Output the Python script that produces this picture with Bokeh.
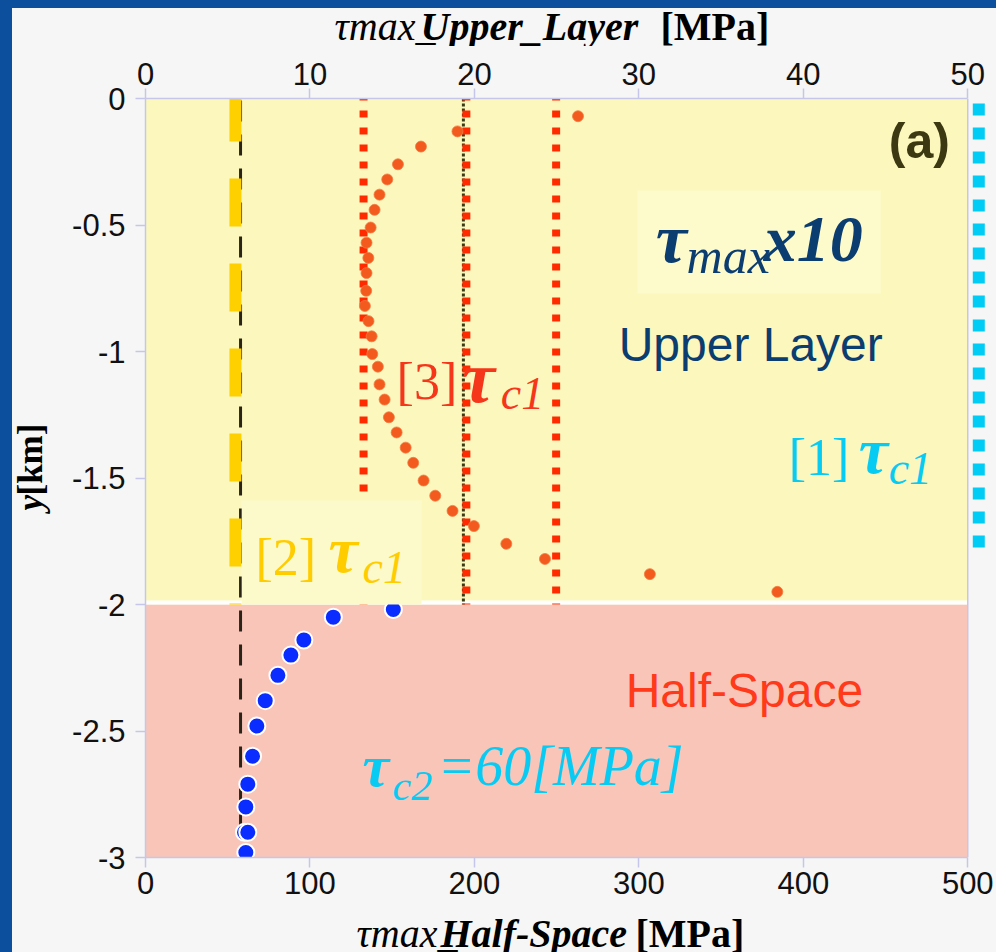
from bokeh.plotting import figure
from bokeh.models import Range1d, LinearAxis, FixedTicker, Label, BoxAnnotation, Span
from bokeh.layouts import column, row
from bokeh.embed import file_html
from bokeh.resources import INLINE

# ---------------- data ----------------
# Upper layer: tau_max x10 (top axis units) vs depth y [km]
upper_depth_km = [-0.07, -0.13, -0.19, -0.26, -0.32, -0.38, -0.44, -0.51, -0.57, -0.63,
                  -0.69, -0.76, -0.82, -0.88, -0.94, -1.01, -1.06, -1.13, -1.19, -1.26,
                  -1.32, -1.38, -1.44, -1.51, -1.57, -1.63, -1.69, -1.76, -1.82, -1.88, -1.95]
upper_tmax = [26.3, 18.97, 16.75, 15.35, 14.70, 14.23, 13.93, 13.69, 13.44, 13.55,
              13.44, 13.42, 13.34, 13.56, 13.75, 13.79, 14.13, 14.23, 14.54, 14.80,
              15.27, 15.82, 16.28, 16.91, 17.62, 18.67, 19.97, 21.94, 24.29, 30.67, 38.42]
# Half-space: tau_max (bottom axis units) vs depth
half_depth_km = [-2.02, -2.05, -2.14, -2.20, -2.28, -2.38, -2.48, -2.60, -2.71, -2.80, -2.90, -2.90, -2.98]
half_tmax = [150.7, 114.2, 96.3, 88.4, 80.5, 72.8, 67.7, 65.1, 62.2, 61.0, 60.2, 62.2, 61.0]

# critical stress reference lines (top-axis units unless noted)
tc1_case1 = 50.67              # [1] cyan dotted
tc1_case2 = 5.47               # [2] yellow dashed
tc1_case3 = [13.26, 19.51, 24.97]  # [3] red dotted
tc1_black_dotted = 19.33
tc2_line = 57.8                # bottom-axis units, black dashed

# layer boundaries [km]
layer_top, layer_interface, layer_bottom = 0.0, -2.0, -3.0
upper_ticks = [0, 10, 20, 30, 40, 50]
lower_ticks = [0, 100, 200, 300, 400, 500]
y_ticks = [0, -0.5, -1, -1.5, -2, -2.5, -3]
y_tick_labels = ["0", "-0.5", "-1", "-1.5", "-2", "-2.5", "-3"]

# ---------------- styling ----------------
BLUE_BG = "#0c4f9c"
PAPER = "#f6f6f6"
YELLOW = "#fcf8bd"
PINK = "#f9c5b9"
FRAME = "#c6c6ea"
SERIF = "Liberation Serif"
SANS = "Liberation Sans"

p = figure(width=939, height=866, output_backend="svg", toolbar_location=None,
           x_range=Range1d(0, 51.2), y_range=Range1d(-3, 0),
           x_axis_location="above", min_border_left=88, min_border_right=9,
           min_border_top=52, min_border_bottom=55, frame_align=False)
p.extra_x_ranges = {"lower": Range1d(0, 512)}
p.background_fill_color = PAPER
p.border_fill_color = PAPER
p.outline_line_color = None
p.grid.grid_line_color = None

lower_axis = LinearAxis(x_range_name="lower")
p.add_layout(lower_axis, "below")

def style_axis(ax, ticks, standoff):
    ax.ticker = FixedTicker(ticks=ticks)
    ax.axis_line_color = FRAME
    ax.axis_line_width = 1.5
    ax.major_tick_line_color = FRAME
    ax.major_tick_line_width = 1.5
    ax.major_tick_out = 10
    ax.major_tick_in = 0
    ax.minor_tick_line_color = None
    ax.major_label_text_font = SANS
    ax.major_label_text_font_size = "31px"
    ax.major_label_text_color = "#111111"
    ax.major_label_standoff = standoff

top_axis = p.xaxis[0]
style_axis(top_axis, upper_ticks, 4)
top_axis.bounds = (0, 50)
style_axis(lower_axis, lower_ticks, 4)
lower_axis.bounds = (0, 500)
style_axis(p.yaxis[0], y_ticks, 10)
p.yaxis[0].major_label_overrides = {t: s for t, s in zip(y_ticks, y_tick_labels)}

# layer regions
p.quad(left=[0], right=[50], top=[layer_top], bottom=[layer_interface], fill_color=YELLOW, line_color=None)
p.quad(left=[0], right=[50], top=[layer_interface], bottom=[layer_bottom], fill_color=PINK, line_color=None)
p.segment(x0=[0], y0=[-1.992], x1=[50], y1=[-1.992], line_color="white", line_width=4)
p.add_layout(Span(location=50, dimension="height", line_color=FRAME, line_width=1.5))

# reference lines
p.segment(x0=[tc2_line], y0=[-0.008], x1=[tc2_line], y1=[layer_bottom], x_range_name="lower",
          line_color="#2a2418", line_width=3, line_dash="21 13")
p.segment(x0=[tc1_case2], y0=[0.02], x1=[tc1_case2], y1=[layer_interface],
          line_color="#ffd000", line_width=12, line_dash="48 37")
p.segment(x0=[tc1_black_dotted], y0=[0], x1=[tc1_black_dotted], y1=[-2.0],
          line_color="#3a3a14", line_width=3, line_dash="3 2")
p.segment(x0=tc1_case3, y0=[0.02] * 3, x1=tc1_case3, y1=[-2.0] * 3,
          line_color="#ff2a00", line_width=8, line_dash="7 10")
p.segment(x0=[tc1_case1], y0=[-0.02], x1=[tc1_case1], y1=[-1.80],
          line_color="#00ccf5", line_width=12, line_dash="12 12")

# data points
p.scatter(upper_tmax, upper_depth_km, size=11, fill_color="#f25a1e", line_color="#f47a40",
          line_width=0.8)
p.scatter(half_tmax, half_depth_km, x_range_name="lower", size=17, fill_color="#0b2cff",
          line_color="white", line_width=2)

# label boxes
p.add_layout(BoxAnnotation(left=5.85, right=16.79, top=-1.589, bottom=-2.0,
                           fill_color="#fcfacb", fill_alpha=1.0, line_color=None))
p.add_layout(BoxAnnotation(left=29.93, right=44.71, top=-0.364, bottom=-0.771,
                           fill_color="#fdfacb", fill_alpha=1.0, line_color=None))

def lab(fig, x, y, text, font=SERIF, size=40, style="normal", color="black", angle=0, units="data"):
    fig.add_layout(Label(x=x, y=y, x_units=units, y_units=units, text=text, text_font=font,
                         text_font_size=f"{size}px", text_font_style=style, text_color=color,
                         text_align="left", text_baseline="alphabetic", angle=angle,
                         angle_units="deg"))

def text_strip(w, h):
    f = figure(width=w, height=h, output_backend="svg", toolbar_location=None,
               x_axis_type=None, y_axis_type=None, min_border=0, frame_align=False,
               x_range=Range1d(0, 1), y_range=Range1d(0, 1))
    f.background_fill_color = PAPER
    f.border_fill_color = PAPER
    f.outline_line_color = None
    f.grid.grid_line_color = None
    return f

# axis titles in their own strips (screen units: from strip left / bottom)
top_strip = text_strip(984, 38)
lab(top_strip, 322, 20, "\u03c4max_", size=40, style="italic", units="screen")
lab(top_strip, 408, 20, "Upper_Layer", size=40, style="bold italic", units="screen")
lab(top_strip, 648, 20, "[MPa]", size=40, style="bold", units="screen")

bottom_strip = text_strip(984, 40)
lab(bottom_strip, 344, 19, "\u03c4max_", size=40, style="italic", units="screen")
lab(bottom_strip, 428, 19, "Half-Space", size=40, style="bold italic", units="screen")
lab(bottom_strip, 623, 19, "[MPa]", size=40, style="bold", units="screen")

left_strip = text_strip(45, 866)
lab(left_strip, 18, 402, "y", size=35, style="bold italic", angle=90, units="screen")
lab(left_strip, 18, 417, "[km]", size=35, style="bold", angle=90, units="screen")

# panel letter
lab(p, 45.2, -0.169, "(a)", font=SANS, size=50, style="bold", color="#3b3812")

# tau_max x10 / Upper Layer
DARKBLUE = "#0b3d70"
lab(p, 31.02, -0.552, "\u03c4", size=70, style="bold italic", color=DARKBLUE)
lab(p, 32.9, -0.623, "max", size=50, style="italic", color=DARKBLUE)
lab(p, 37.59, -0.552, "x10", size=66, style="bold italic", color=DARKBLUE)
lab(p, 28.77, -0.972, "Upper Layer", font=SANS, size=48, color=DARKBLUE)

# [3] tau_c1 (red)
RED = "#f5361a"
lab(p, 15.27, -1.119, "[3]", size=52, color=RED)
lab(p, 19.25, -1.099, "\u03c4", size=74, style="bold italic", color=RED)
lab(p, 21.6, -1.166, "c1", size=46, style="italic", color=RED)

# [1] tau_c1 (cyan)
CYAN = "#08cbf4"
lab(p, 39.11, -1.417, "[1]", size=52, color=CYAN)
lab(p, 43.37, -1.393, "\u03c4", size=66, style="bold italic", color=CYAN)
lab(p, 45.19, -1.464, "c1", size=46, style="italic", color=CYAN)

# [2] tau_c1 (gold)
GOLD = "#ffcc00"
lab(p, 6.69, -1.815, "[2]", size=52, color=GOLD)
lab(p, 11.13, -1.784, "\u03c4", size=66, style="bold italic", color=GOLD)
lab(p, 13.20, -1.855, "c1", size=46, style="italic", color=GOLD)

# Half-Space and tau_c2
lab(p, 29.2, -2.340, "Half-Space", font=SANS, size=48, color="#ff3a1a")
lab(p, 13.2, -2.639, "\u03c4", size=60, style="bold italic", color=CYAN)
lab(p, 15.02, -2.718, "c2", size=42, style="italic", color=CYAN)
lab(p, 17.75, -2.639, "=60[MPa]", size=56, style="italic", color=CYAN)

inner = column(top_strip, row(left_strip, p, spacing=0), bottom_strip, spacing=0,
               styles={"background-color": PAPER})
inner.margin = (8, 0, 0, 12)
layout = column(inner, styles={"background-color": BLUE_BG}, width=996, height=952)
open("out.html", "w").write(file_html(layout, INLINE))
